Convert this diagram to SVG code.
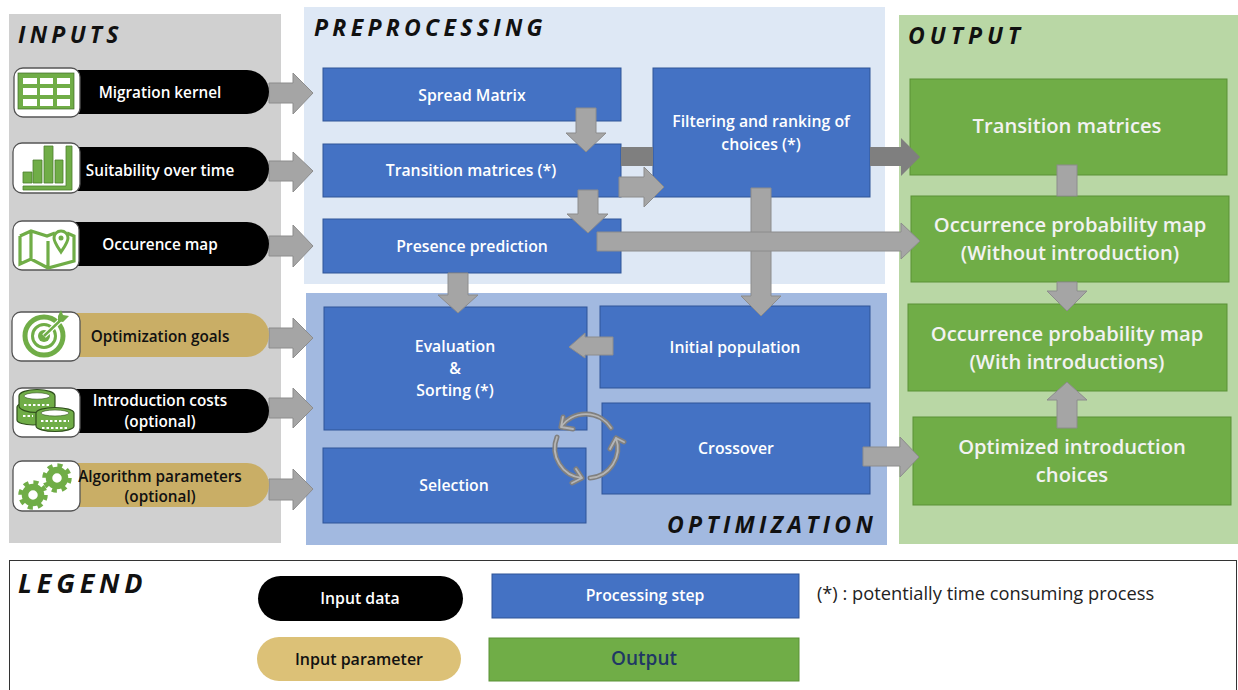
<svg xmlns="http://www.w3.org/2000/svg" width="1238" height="690" viewBox="0 0 1238 690">
<style>
text{font-family:"Open Sans","Noto Sans","Liberation Sans",sans-serif;text-anchor:middle}
.t{font-weight:600;font-size:15.8px;fill:#fff}
.s{font-size:15.3px}
.d{font-weight:600;font-size:15.3px;fill:#111}
.g{font-weight:600;font-size:20.2px;fill:#f2f2f2}
.h{font-weight:700;font-style:italic;font-size:23px;letter-spacing:4.3px;fill:#111;text-anchor:start}
.b{fill:#4472c4;stroke:#2f5597;stroke-width:1}
.o{fill:#70ad47;stroke:#5b9136;stroke-width:1}
.a{fill:#a5a5a5;stroke:#8c8c8c;stroke-width:1}
.k{fill:#7f7f7f}
.i{fill:#fff;stroke:#555;stroke-width:1.3}
.ic{fill:#70ad47;stroke:#4c7d2f;stroke-width:.8}
.co{fill:#70ad47;stroke:#2f4f1c;stroke-width:1.2}
.c{fill:none;stroke:#808080;stroke-width:5;stroke-linecap:round;stroke-linejoin:round}
.c2{fill:none;stroke:#b5b5b5;stroke-width:1.8;stroke-linecap:round;stroke-linejoin:round}
</style>
<g id="panels">
<rect x="9" y="14" width="272" height="529" fill="#d0d0d0"/>
<rect x="304" y="7" width="581" height="277" fill="#dee8f5"/>
<rect x="306" y="293" width="581" height="252" fill="#a2b9e0"/>
<rect x="899" y="15" width="339" height="529" fill="#b9d7a5"/>
<rect x="9.5" y="560.5" width="1227" height="135" fill="#fff" stroke="#333"/>
<text class="h" x="18" y="43">INPUTS</text>
<text class="h" x="314" y="36">PREPROCESSING</text>
<text class="h" x="667" y="533">OPTIMIZATION</text>
<text class="h" x="908" y="44" style="letter-spacing:5px">OUTPUT</text>
<text class="h" x="18" y="593" style="font-size:27px;letter-spacing:4.8px">LEGEND</text>
</g>
<g id="node-spread"><rect class="b" x="323" y="68" width="298" height="53"/><text class="t" x="472" y="101">Spread Matrix</text></g>
<g id="node-transition"><rect class="b" x="323" y="144" width="298" height="53"/><text class="t" x="471" y="176">Transition matrices (*)</text></g>
<g id="node-presence"><rect class="b" x="323" y="219" width="298" height="54"/><text class="t" x="472" y="252">Presence prediction</text></g>
<g id="node-filter"><rect class="b" x="653" y="68" width="217" height="129"/><text class="t" x="761" y="127">Filtering and ranking of</text><text class="t" x="761" y="150">choices (*)</text></g>
<g id="node-eval"><rect class="b" x="324" y="307" width="263" height="123"/><text class="t" x="455" y="352">Evaluation</text><text class="t" x="455" y="374">&amp;</text><text class="t" x="455" y="396">Sorting (*)</text></g>
<g id="node-initial"><rect class="b" x="600" y="306" width="270" height="82"/><text class="t" x="735" y="353">Initial population</text></g>
<g id="node-crossover"><rect class="b" x="602" y="403" width="268" height="91"/><text class="t" x="736" y="454">Crossover</text></g>
<g id="node-selection"><rect class="b" x="323" y="448" width="263" height="75"/><text class="t" x="454" y="491">Selection</text></g>
<g id="node-out-transition"><rect class="o" x="910" y="79" width="317" height="96"/><text class="g" x="1067" y="133">Transition matrices</text></g>
<g id="node-out-without"><rect class="o" x="911" y="196" width="318" height="86"/><text class="g" x="1070" y="232">Occurrence probability map</text><text class="g" x="1070" y="260">(Without introduction)</text></g>
<g id="node-out-with"><rect class="o" x="908" y="304" width="319" height="87"/><text class="g" x="1067" y="341">Occurrence probability map</text><text class="g" x="1067" y="369">(With introductions)</text></g>
<g id="node-out-optimized"><rect class="o" x="913" y="417" width="318" height="88"/><text class="g" x="1072" y="454">Optimized introduction</text><text class="g" x="1072" y="482">choices</text></g>
<g id="connectors">
<polygon class="a" points="269,83 293,83 293,73 313,93 293,114 293,103 269,103"/>
<polygon class="a" points="269,161 293,161 293,152 313,171 293,192 293,181 269,181"/>
<polygon class="a" points="269,236 293,236 293,225 313,246 293,267 293,256 269,256"/>
<polygon class="a" points="269,328 293,328 293,318 313,338 293,358 293,348 269,348"/>
<polygon class="a" points="269,398 293,398 293,388 313,408 293,428 293,418 269,418"/>
<polygon class="a" points="269,479 293,479 293,469 313,489 293,510 293,500 269,500"/>
<polygon class="a" points="576,108 596,108 596,133 606,133 586,152 566,133 576,133"/>
<polygon class="k" points="621,147 653,147 653,166 621,166"/>
<polygon class="k" points="870,147 901,147 901,138 920,157 901,176 901,166 870,166"/>
<polygon class="a" points="619,177 644,177 644,167 664,187 644,207 644,197 619,197"/>
<polygon class="a" points="578,190 598,190 598,214 608,214 588,233 567,214 578,214"/>
<polygon class="a" points="751,188 771,188 771,296 781,296 761,316 741,296 751,296"/>
<polygon class="a" points="597,232 901,232 901,223 920,241 901,259 901,251 597,251"/>
<polygon class="a" points="448,273 468,273 468,295 478,295 458,313 438,295 448,295"/>
<polygon class="a" points="613,337 585,337 585,333 569,347 585,358 585,355 613,355"/>
<polygon class="a" points="863,447 900,447 900,437 919,457 900,477 900,466 863,466"/>
<rect class="a" x="1057" y="165" width="20" height="31"/>
<polygon class="a" points="1057,282 1077,282 1077,291 1087,291 1067,311 1047,291 1057,291"/>
<polygon class="a" points="1057,428 1077,428 1077,400 1087,400 1067,382 1047,400 1057,400"/>
<g id="cycle">
<path class="c" d="M611,428 A30,30 0 0 0 561,427 M561,427 L573,429 M561,427 L563,417"/>
<path class="c" d="M557,437 A30,30 0 0 0 582,478 M582,478 L576,469 M582,478 L572,483"/>
<path class="c" d="M590,478 A30,30 0 0 0 616,438 M616,438 L610,449 M616,438 L624,442"/>
<path class="c2" d="M611,428 A30,30 0 0 0 561,427 M561,427 L573,429 M561,427 L563,417"/>
<path class="c2" d="M557,437 A30,30 0 0 0 582,478 M582,478 L576,469 M582,478 L572,483"/>
<path class="c2" d="M590,478 A30,30 0 0 0 616,438 M616,438 L610,449 M616,438 L624,442"/>
</g>
</g>
<g id="input-migration"><path d="M70,70H247a22,22 0 0 1 0,44H70z" fill="#000"/><rect class="i" x="14" y="68" width="66" height="49" rx="9"/>
<rect x="18" y="73" width="56" height="36" fill="#70ad47" stroke="#3d6b25" stroke-width=".7"/>
<path fill="#fff" d="M23,78h14v6h-14zM40,78h13v6h-13zM57,78h13v6h-13zM23,88h14v7h-14zM40,88h13v7h-13zM57,88h13v7h-13zM23,99h14v7h-14zM40,99h13v7h-13zM57,99h13v7h-13z"/>
<text class="t s" x="160" y="98">Migration kernel</text></g>
<g id="input-suitability"><path d="M70,147H247a22,22 0 0 1 0,44H70z" fill="#000"/><rect class="i" x="13" y="143" width="67" height="50" rx="9"/>
<path class="ic" d="M23,172h9v11h-9zM33,160h9v23h-9zM44,146h9v37h-9zM55,160h8v23h-8z"/><path class="ic" d="M66,146h6v44H23v-4h43z"/>
<text class="t s" x="160" y="176">Suitability over time</text></g>
<g id="input-occurrence"><path d="M70,222H247a22,22 0 0 1 0,44H70z" fill="#000"/><rect class="i" x="13" y="221" width="66" height="49" rx="9"/>
<path d="M20,236l11,-5l16,5l8,-3M20,236v28l11,-5l17,9l26,-7V236l-7,-3M31,231v28M48,241v27" fill="none" stroke="#70ad47" stroke-width="3.2"/>
<path d="M61,252c-4,-6-7,-10-7,-14a7,7 0 0 1 14,0c0,4-3,8-7,14z" fill="#fff" stroke="#70ad47" stroke-width="3"/><circle cx="61" cy="238" r="2.5" fill="#70ad47"/>
<text class="t s" x="160" y="250">Occurence map</text></g>
<g id="input-goals"><path d="M70,313H247a22,22 0 0 1 0,44H70z" fill="#c9ae66"/><rect class="i" x="12" y="312" width="68" height="49" rx="9"/>
<circle cx="44" cy="336" r="19" fill="none" stroke="#70ad47" stroke-width="5"/><circle cx="44" cy="336" r="11.5" fill="none" stroke="#70ad47" stroke-width="3"/><circle cx="44" cy="336" r="6" fill="#70ad47"/>
<path d="M44,336L64,317" stroke="#fff" stroke-width="5"/><path d="M44,336L64,317" stroke="#70ad47" stroke-width="2.5"/><path d="M58,316l3,-6l2,5l6,1l-6,6l-5,-1z" fill="#70ad47"/>
<text class="d" x="160" y="342">Optimization goals</text></g>
<g id="input-costs"><path d="M70,389H247a22,22 0 0 1 0,44H70z" fill="#000"/><rect class="i" x="13" y="388" width="67" height="49" rx="9"/>
<path class="co" d="M17,407a16,5 0 0 1 32,0v13a16,5 0 0 1-32,0z"/>
<path class="co" d="M19,396a18,6.500 0 0 1 36,0v10a18,6.500 0 0 1-36,0z"/>
<ellipse cx="37" cy="396" rx="13" ry="3.200" fill="#fff" stroke="#2f4f1c" stroke-width=".6"/>
<path class="co" d="M36,413a19,5.500 0 0 1 38,0v13a19,5.500 0 0 1-38,0z"/>
<ellipse cx="55" cy="413" rx="14" ry="3" fill="#fff" stroke="#2f4f1c" stroke-width=".6"/>
<path d="M24,405h26M23,416h10M41,421h28M42,428h26" stroke="#fff" stroke-width="2" stroke-dasharray="2.500 2" fill="none"/>
<text class="t s" x="160" y="406">Introduction costs</text><text class="t s" x="160" y="427">(optional)</text></g>
<g id="input-algorithm"><path d="M70,463H247a22,22 0 0 1 0,44H70z" fill="#c9ae66"/><rect class="i" x="13" y="461" width="67" height="50" rx="9"/>
<circle cx="33" cy="495" r="8" fill="#fff" stroke="#70ad47" stroke-width="6.500"/><circle cx="33" cy="495" r="12.500" fill="none" stroke="#70ad47" stroke-width="4.500" stroke-dasharray="5 4.820"/>
<circle cx="57" cy="478" r="8" fill="#fff" stroke="#70ad47" stroke-width="6.500"/><circle cx="57" cy="478" r="12.500" fill="none" stroke="#70ad47" stroke-width="4.500" stroke-dasharray="5 4.820"/>
<text class="d" x="160" y="482">Algorithm parameters</text><text class="d" x="160" y="502">(optional)</text></g>
<g id="legend-input"><rect x="258" y="576" width="205" height="45" rx="22.500" fill="#000"/><text class="t" x="360" y="604">Input data</text></g>
<g id="legend-param"><rect x="257" y="637" width="204" height="44" rx="22" fill="#dcc177"/><text class="d" x="359" y="665" style="font-size:16px">Input parameter</text></g>
<g id="legend-step"><rect class="b" x="492" y="574" width="307" height="44"/><text class="t" x="645" y="601">Processing step</text></g>
<g id="legend-output"><rect class="o" x="489" y="638" width="310" height="43"/><text x="644" y="665" style="font-weight:600;font-size:19px;fill:#1f3864">Output</text></g>
<text x="985.500" y="600" style="font-size:18.300px;fill:#222">(*) : potentially time consuming process</text>
</svg>
